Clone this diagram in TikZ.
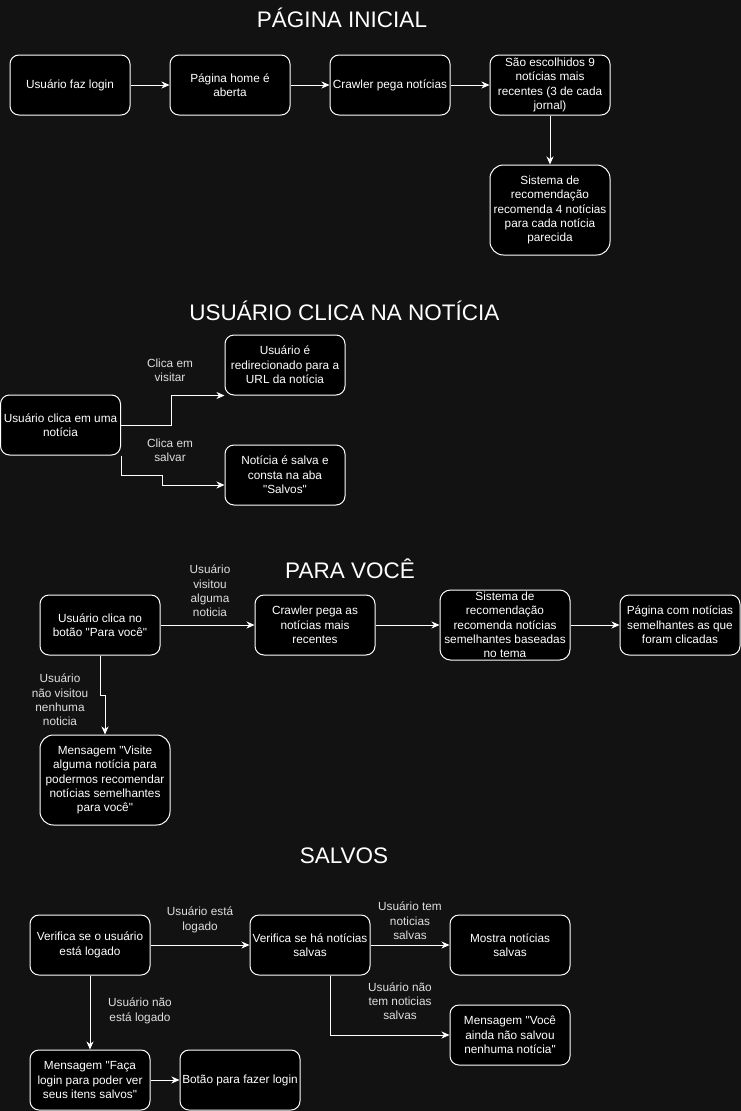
\documentclass[tikz,border=0pt]{standalone}
\usepackage{fontspec}
\setmainfont{Liberation Sans}[Ligatures=TeXOff]
\usetikzlibrary{arrows.meta}
\definecolor{pagebg}{RGB}{18,18,18}
\definecolor{labelgray}{RGB}{222,222,222}
\begin{document}
\begin{tikzpicture}[x=1pt, y=-1pt,
	box/.style={draw=white, fill=black, text=white, line width=1pt, rounded corners=9pt, minimum width=120pt, minimum height=60pt, inner sep=0pt, align=center},
	tallbox/.style={box, minimum width=120pt, minimum height=90pt, rounded corners=13.5pt},
	lbl/.style={text=labelgray, align=center, inner sep=0pt},
	title/.style={text=white, anchor=base, font=\fontsize{22.5}{26}\selectfont},
	flow/.style={draw=white, line width=1pt, -{Stealth[length=8pt, width=7pt, inset=2.5pt]}},
	font=\fontsize{11.8}{14.3}\selectfont]
%			\draw[help lines] (0,0) grid (741,1111);
			\fill[pagebg] (0,0) rectangle (741,1111);
			\useasboundingbox (0,0) rectangle (741,1111);
			% pagina inicial
			\node[title] (t-inicial) at (342,27) {PÁGINA INICIAL};
			\node[box] (login) at (70,85) {Usuário faz login};
			\node[box] (home) at (230,85) {Página home é\\aberta};
			\node[box] (crawler) at (390,85) {Crawler pega notícias};
			\node[box] (escolhidos) at (550,85) {São escolhidos 9\\notícias mais\\recentes (3 de cada\\jornal)};
			\node[tallbox] (recom) at (550,210) {Sistema de\\recomendação\\recomenda 4 notícias\\para cada notícia\\parecida};
			\draw[flow] (login.east) -- (home.west);
			\draw[flow] (home.east) -- (crawler.west);
			\draw[flow] (crawler.east) -- (escolhidos.west);
			\draw[flow] (escolhidos.south) -- (recom.north);
			% usuario clica na noticia
			\node[title] (t-clica) at (344.5,320) {USUÁRIO CLICA NA NOTÍCIA};
			\node[box] (clica) at (60.5,425) {Usuário clica em uma\\notícia};
			\node[box] (url) at (285,365) {Usuário é\\redirecionado para a\\URL da notícia};
			\node[box] (salva) at (285,475) {Notícia é salva e\\consta na aba\\"Salvos"};
			\draw[flow] (clica.east) -- ++(50,0) |- (url.south west) node[lbl] at (170,370) {Clica em\\visitar};
			\draw[flow] (clica.south east) -- ++(0,20) -- ++(41,0) |- ([yshift=-10pt]salva.west) node[lbl] at (170,450) {Clica em\\salvar};
			% para voce
			\node[title] (t-voce) at (350,578) {PARA VOCÊ};
			\node[box] (botao) at (100,625) {Usuário clica no\\botão "Para você"};
			\node[box] (crawler2) at (315,625) {Crawler pega as\\notícias mais\\recentes};
			\node[box, minimum width=130pt, minimum height=70pt, rounded corners=10.5pt] (recom2) at (505,625) {Sistema de\\recomendação\\recomenda notícias\\semelhantes baseadas\\no tema};
			\node[box] (semelhantes) at (680,625) {Página com notícias\\semelhantes as que\\foram clicadas};
			\node[tallbox, minimum width=130pt] (visite) at (105,780) {Mensagem "Visite\\alguma notícia para\\podermos recomendar\\notícias semelhantes\\para você"};
			\draw[flow] (botao.east) -- (crawler2.west) node[lbl] at (210,591) {Usuário\\visitou\\alguma\\noticia};
			\draw[flow] (crawler2.east) -- (recom2.west);
			\draw[flow] (recom2.east) -- (semelhantes.west);
			\draw[flow] (botao.south) -- ++(0,40) -- ++(5,0) -- (visite.north) node[lbl] at (60,700) {Usuário\\não visitou\\nenhuma\\noticia};
			% salvos
			\node[title] (t-salvos) at (344,863) {SALVOS};
			\node[box] (logado) at (90,945) {Verifica se o usuário\\está logado};
			\node[box] (verifica) at (310,945) {Verifica se há notícias\\salvas};
			\node[box] (mostra) at (510,945) {Mostra notícias\\salvas};
			\node[box] (naosalvou) at (510,1035) {Mensagem "Você\\ainda não salvou\\nenhuma notícia"};
			\node[box] (faca) at (90,1080) {Mensagem "Faça\\login para poder ver\\seus itens salvos"};
			\node[box] (fazer) at (240,1080) {Botão para fazer login};
			\draw[flow] (logado.east) -- (verifica.west) node[lbl] at (200,920) {Usuário está\\logado};
			\draw[flow] (logado.south) -- (faca.north) node[lbl] at (140,1011) {Usuário não\\está logado};
			\draw[flow] (faca.east) -- (fazer.west);
			\draw[flow] (verifica.east) -- (mostra.west) node[lbl] at (410,921) {Usuário tem\\noticias\\salvas};
			\draw[flow] ([xshift=20pt]verifica.south) |- (naosalvou.west) node[lbl] at (400,1001) {Usuário não\\tem noticias\\salvas};
\end{tikzpicture}
\end{document}
